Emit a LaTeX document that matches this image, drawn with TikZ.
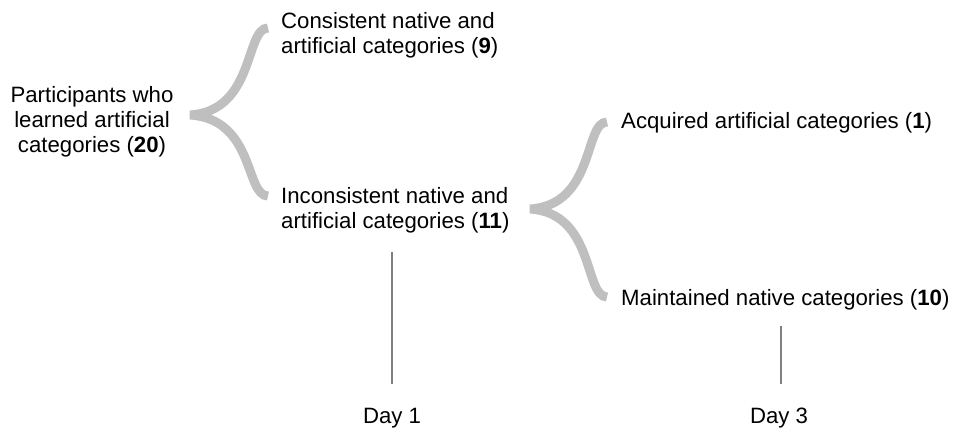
\documentclass[tikz,border=0pt]{standalone}
\usepackage{fontspec}
\setmainfont{Liberation Sans}
\definecolor{bracegray}{HTML}{BFBFBF}
\definecolor{linegray}{HTML}{808080}
\begin{document}
\begin{tikzpicture}[x=1pt,y=-1pt,
  lbl/.style={inner sep=0pt, font=\fontsize{22.2}{25}\selectfont, text=black},
  bracearm/.style={draw=bracegray, line width=9pt, line join=miter, line cap=butt},
  dayline/.style={draw=linegray, line width=1.2pt}]
\useasboundingbox (0,0) rectangle (955,436);
% texts
\node[lbl, anchor=north, align=center] (part) at (92,86) {Participants who\\learned artificial\\categories (\textbf{20})};
\node[lbl, anchor=north west, align=left] (cons) at (281,12) {Consistent native and\\artificial categories (\textbf{9})};
\node[lbl, anchor=north west, align=left] (incons) at (281,187) {Inconsistent native and\\artificial categories (\textbf{11})};
\node[lbl, anchor=north west] (acq) at (621,112) {Acquired artificial categories (\textbf{1})};
\node[lbl, anchor=north west] (maint) at (621,289) {Maintained native categories (\textbf{10})};
\node[lbl, anchor=north] (day1) at (392,408) {Day 1};
\node[lbl, anchor=north] (day3) at (779,408) {Day 3};
% brace 1
\coordinate (b1top) at (268,28);
\coordinate (b1tip) at (190,115);
\coordinate (b1bot) at (268,196);
\draw[bracearm] (b1top) .. controls +(-23,0) and +(65,-4) .. (b1tip)
  .. controls +(65,4) and +(-23,0) .. (b1bot);
% brace 2
\coordinate (b2top) at (607,122);
\coordinate (b2tip) at (530,209);
\coordinate (b2bot) at (607,297);
\draw[bracearm] (b2top) .. controls +(-23,0) and +(65,-4) .. (b2tip)
  .. controls +(65,4) and +(-23,0) .. (b2bot);
% day lines
\coordinate (l1a) at (392,252);
\coordinate (l1b) at (392,384);
\coordinate (l2a) at (781,326);
\coordinate (l2b) at (781,384);
\draw[dayline] (l1a) -- (l1b);
\draw[dayline] (l2a) -- (l2b);
\end{tikzpicture}
\end{document}
